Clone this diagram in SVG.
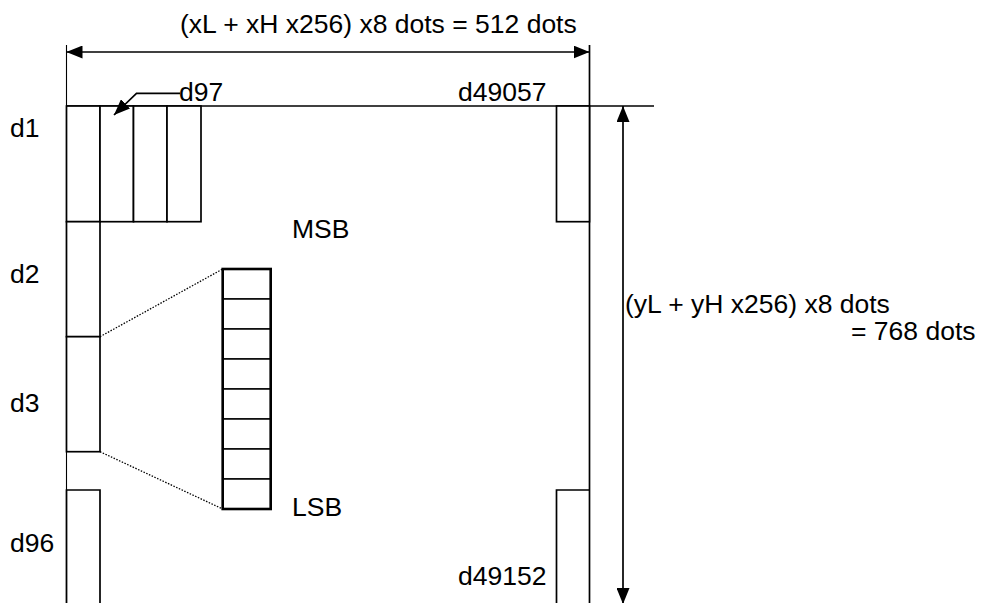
<svg xmlns="http://www.w3.org/2000/svg" width="986" height="603" viewBox="0 0 986 603">
<style>
text{font-family:"Liberation Sans",Arial,sans-serif;font-size:26.5px;fill:#000}
.box{fill:#fff;stroke:#000;stroke-width:1.7}
.ln{fill:none;stroke:#000;stroke-width:1.7}
.thin{fill:none;stroke:#000;stroke-width:1.1}
.dot{fill:none;stroke:#000;stroke-width:1.3;stroke-dasharray:1.5 1.5}
.bit{fill:#fff;stroke:#000;stroke-width:1.5}
.bitout{fill:none;stroke:#000;stroke-width:2.6}
</style>
<defs>
<marker id="ah" viewBox="0 0 16 13" refX="16" refY="6.5" markerWidth="16" markerHeight="13" orient="auto-start-reverse" markerUnits="userSpaceOnUse">
<path d="M0,0 L16,6.5 L0,13 z" fill="#000"/>
</marker>
</defs>
<rect width="986" height="603" fill="#fff"/>
<g id="extension-lines">
<line class="thin" x1="66.5" y1="45" x2="66.5" y2="603"/>
<line class="ln" x1="589.5" y1="45" x2="589.5" y2="603"/>
<line class="ln" x1="66.5" y1="106" x2="654" y2="106"/>
</g>
<g id="d1-row">
<rect class="box" x="66.5" y="106" width="33.5" height="115.7"/>
<rect class="box" x="100" y="106" width="33.5" height="115.7"/>
<rect class="box" x="133.5" y="106" width="33.5" height="115.7"/>
<rect class="box" x="167" y="106" width="34" height="115.7"/>
</g>
<g id="d2-box"><rect class="box" x="66.5" y="221.7" width="33.5" height="115"/></g>
<g id="d3-box"><rect class="box" x="66.5" y="336.7" width="33.5" height="115"/></g>
<g id="d96-box"><path class="ln" d="M66.5,606 V490 H100 V606"/></g>
<g id="d49057-box"><rect class="box" x="556.5" y="106" width="33" height="115.7"/></g>
<g id="d49152-box"><path class="ln" d="M589.5,490 H556.5 V606"/></g>
<g id="bit-column">
<rect class="bit" x="222.7" y="269" width="48" height="30"/>
<rect class="bit" x="222.7" y="299" width="48" height="30"/>
<rect class="bit" x="222.7" y="329" width="48" height="30"/>
<rect class="bit" x="222.7" y="359" width="48" height="30"/>
<rect class="bit" x="222.7" y="389" width="48" height="30"/>
<rect class="bit" x="222.7" y="419" width="48" height="30"/>
<rect class="bit" x="222.7" y="449" width="48" height="30"/>
<rect class="bit" x="222.7" y="479" width="48" height="30"/>
<rect class="bitout" x="222.7" y="269" width="48" height="240"/>
</g>
<g id="connectors">
<line class="ln" x1="66.5" y1="52" x2="589.5" y2="52" marker-start="url(#ah)" marker-end="url(#ah)"/>
<line class="ln" x1="623" y1="106" x2="623" y2="604" marker-start="url(#ah)" marker-end="url(#ah)"/>
<polyline class="ln" points="180,93.3 136.5,93.3 114,115" marker-end="url(#ah)"/>
<line class="dot" x1="100" y1="336.7" x2="222.7" y2="269"/>
<line class="dot" x1="100" y1="451.7" x2="222.7" y2="509"/>
</g>
<g id="labels">
<text x="180" y="33">(xL + xH x256) x8 dots = 512 dots</text>
<text x="179" y="101">d97</text>
<text x="458" y="101">d49057</text>
<text x="10" y="137">d1</text>
<text x="10" y="283">d2</text>
<text x="10" y="412">d3</text>
<text x="10" y="552">d96</text>
<text x="292" y="238">MSB</text>
<text x="292" y="516">LSB</text>
<text x="458" y="585">d49152</text>
<text x="625" y="313">(yL + yH x256) x8 dots</text>
<text x="851" y="340">= 768 dots</text>
</g>
</svg>
